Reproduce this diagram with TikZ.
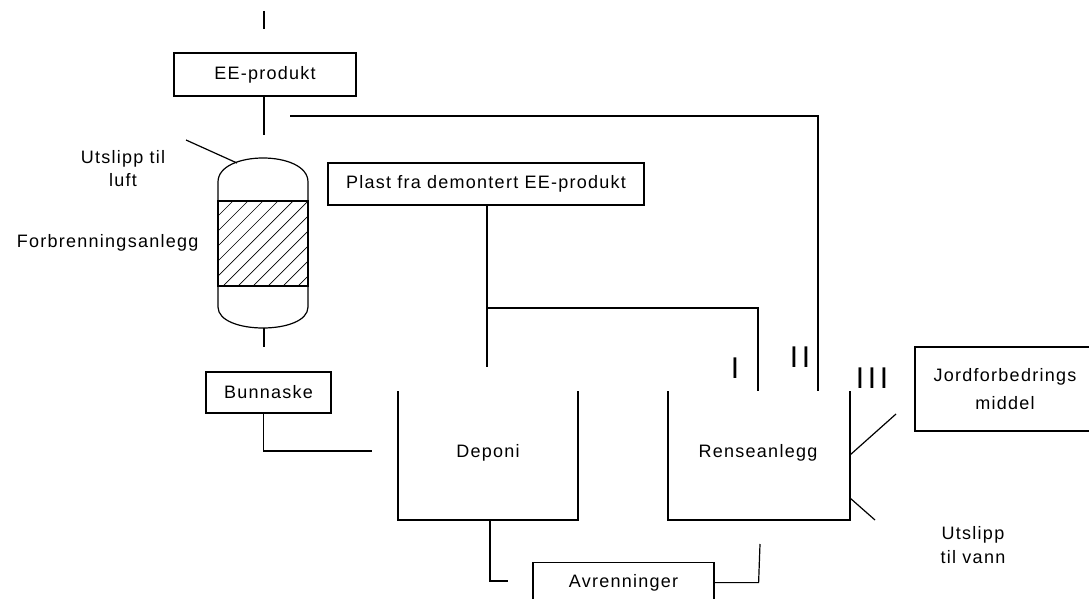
\documentclass[tikz,border=0pt]{standalone}
\usepackage{fontspec}
\setmainfont{Liberation Sans}[LetterSpace=7]
\begin{document}
\begin{tikzpicture}[x=1pt,y=-1pt,line width=1.2pt,
  box/.style={draw,inner sep=0pt,align=center,font=\fontsize{18}{28}\selectfont},
  lbl/.style={inner sep=0pt,align=center,font=\fontsize{18}{23}\selectfont},
  roman/.style={inner sep=0pt,font=\fontsize{30}{30}\selectfont\addfontfeatures{LetterSpace=12}}]
\useasboundingbox (0,0) rectangle (1089,599);

% boxes
\node[box,minimum width=182pt,minimum height=43pt] (ee) at (265,74.5) {EE-produkt};
\node[box,minimum width=316pt,minimum height=42pt] (plast) at (486,184) {Plast fra demontert EE-produkt};
\node[box,minimum width=125pt,minimum height=41pt] (bunn) at (268.5,392.5) {Bunnaske};
\node[box,minimum width=181pt,minimum height=40pt,anchor=north] (avr) at (623.5,562) {Avrenninger};
\node[box,minimum width=180pt,minimum height=84pt] (jord) at (1005,389) {Jordforbedrings\\middel};

% labels
\node[lbl] (luft) at (123,169) {Utslipp til\\luft};
\node[lbl,anchor=east] (forbr) at (199,243) {Forbrenningsanlegg};
\node[lbl] (deponi) at (488,453) {Deponi};
\node[lbl] (rens) at (758,453) {Renseanlegg};
\node[lbl,font=\fontsize{18}{24}\selectfont] (vann) at (973,545) {Utslipp\\til vann};
\node[roman] (r1) at (735,368) {I};
\node[roman] (r2) at (800,357.5) {II};
\node[roman] (r3) at (872,378) {III};

% coordinates
\coordinate (top1) at (264,11);
\coordinate (top2) at (264,29);
\coordinate (eeo) at (264,135);
\coordinate (h0) at (290,116);
\coordinate (rensii) at (818,391);
\coordinate (rensi) at (758,391);
\coordinate (luft1) at (186,140);
\coordinate (luft2) at (237,163);
\coordinate (vesb) at (264,328);
\coordinate (vesbo) at (264,347);
\coordinate (depin) at (372,451);
\coordinate (deptop) at (487,367);
\coordinate (junc) at (487,308);
\coordinate (depb) at (490,520);
\coordinate (avrin) at (508,581);
\coordinate (rensb) at (760,544);
\coordinate (rj1) at (850,455);
\coordinate (rj2) at (896,414);
\coordinate (rv1) at (850,498);
\coordinate (rv2) at (875,520);

% vessel
\draw (218,307) -- (218,182) .. controls (218,150) and (308,150) .. (308,182)
      -- (308,307) .. controls (308,335) and (218,335) .. (218,307) -- cycle;
\begin{scope}
  \clip (218,201) rectangle (308,286);
  \foreach \k in {0,...,12} \draw[line width=0.7pt] ({133+\k*15},286) -- ++(85,-85);
\end{scope}
\draw (218,201) rectangle (308,286);

% containers
\draw (398,391) -- (398,520) -- (578,520) -- (578,391);
\draw (668,391) -- (668,520) -- (850,520) -- (850,391);

% connectors
\draw (top1) -- (top2);
\draw (ee.south -| eeo) -- (eeo);
\draw (h0) -| (rensii);
\draw (luft1) -- (luft2);
\draw (vesb) -- (vesbo);
\draw ([xshift=-5pt]bunn.south) |- (depin);
\draw (plast.south -| deptop) -- (deptop);
\draw (junc) -| (rensi);
\draw (depb) |- (avrin);
\draw (avr.east) -- ++(44,0) -- (rensb);
\draw (rj1) -- (rj2);
\draw (rv1) -- (rv2);
\end{tikzpicture}
\end{document}
